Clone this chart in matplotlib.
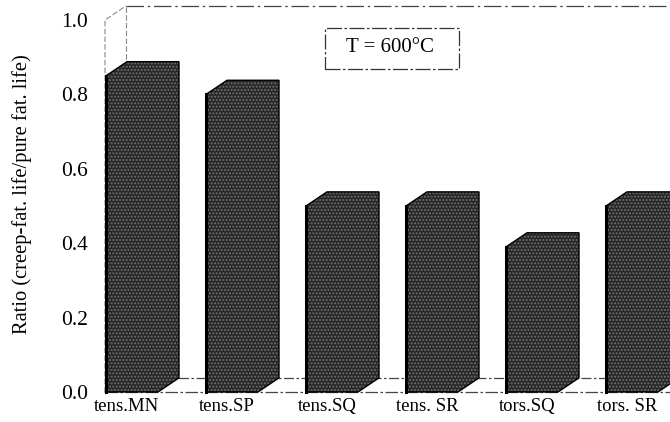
import numpy as np
import matplotlib.pyplot as plt
from matplotlib.patches import Polygon, Rectangle

plt.rcParams['font.family'] = ['Liberation Serif', 'DejaVu Serif']

# data
categories = ['tens.MN', 'tens.SP', 'tens.SQ', 'tens. SR', 'tors.SQ', 'tors. SR']
ratio = [0.85, 0.80, 0.50, 0.50, 0.39, 0.50]
yticks = [0.0, 0.2, 0.4, 0.6, 0.8, 1.0]

fig = plt.figure(figsize=(6.7, 4.22), dpi=100)
ax = fig.add_axes([105 / 670, 30 / 422, 565 / 670, 372 / 422])
ax.set_xlim(0, 5.65)
ax.set_ylim(0, 1.0)

# 3d depth of the columns, in data units
dx = 0.21
dy = 0.038
w = 0.52
xpos = np.arange(len(categories)) * 1.0 + 0.01

# walls / floor outline
wall = '#444444'
ax.plot([0, 0, dx], [0, 1.0, 1.0 + dy], color='#888888', lw=0.8, ls=(0, (5, 2)), clip_on=False, zorder=1)
ax.plot([dx, dx], [dy, 1.0 + dy], color='#888888', lw=0.8, ls=(0, (5, 2)), clip_on=False, zorder=1)
ax.plot([dx, 5.65], [1.0 + dy, 1.0 + dy], color=wall, lw=0.9, ls=(0, (14, 3, 2, 3)), clip_on=False, zorder=1)
ax.plot([dx, 5.65], [dy, dy], color=wall, lw=0.9, ls=(0, (8, 2, 2, 2)), clip_on=False, zorder=1)
ax.plot([0, 5.65], [0, 0], color=wall, lw=0.9, ls=(0, (10, 2, 2, 2)), clip_on=False, zorder=1)
ax.plot([0, dx], [0, dy], color=wall, lw=0.8, clip_on=False, zorder=1)

face = '#262626'
dots = '#707070'
for x, v in zip(xpos, ratio):
    outline = [(x, 0), (x, v), (x + dx, v + dy), (x + w + dx, v + dy),
               (x + w + dx, dy), (x + w, 0)]
    ax.add_patch(Polygon(outline, closed=True, facecolor=face, edgecolor=dots,
                         hatch='.....', lw=0, clip_on=False, zorder=3))
    ax.add_patch(Polygon(outline, closed=True, fill=False, edgecolor='black',
                         lw=1.0, clip_on=False, zorder=4))
    ax.plot([x, x], [0, v], color='black', lw=2.2, clip_on=False, zorder=5)

ax.set_xticks(xpos + 0.21)
ax.set_xticklabels(categories, fontsize=13.5)
ax.set_yticks(yticks)
ax.set_yticklabels(['%.1f' % t for t in yticks], fontsize=15.5)
ax.tick_params(axis='x', length=0, pad=4.5)
ax.tick_params(axis='y', length=0, pad=12)
for s in ax.spines.values():
    s.set_visible(False)

fig.text(22 / 670, 1 - 194 / 422, 'Ratio (creep-fat. life/pure fat. life)',
         rotation=90, ha='center', va='center', fontsize=14.8)

# temperature box
fig.text(390 / 670, 1 - 48 / 422, 'T = 600°C', ha='center', va='center', fontsize=15)
fig.add_artist(Rectangle((325 / 670, 1 - 69 / 422), 134 / 670, 41 / 422,
                         transform=fig.transFigure, fill=False, edgecolor='#333333',
                         lw=0.9, ls=(0, (12, 2, 2, 2))))

fig.savefig('out.png', dpi=100)
